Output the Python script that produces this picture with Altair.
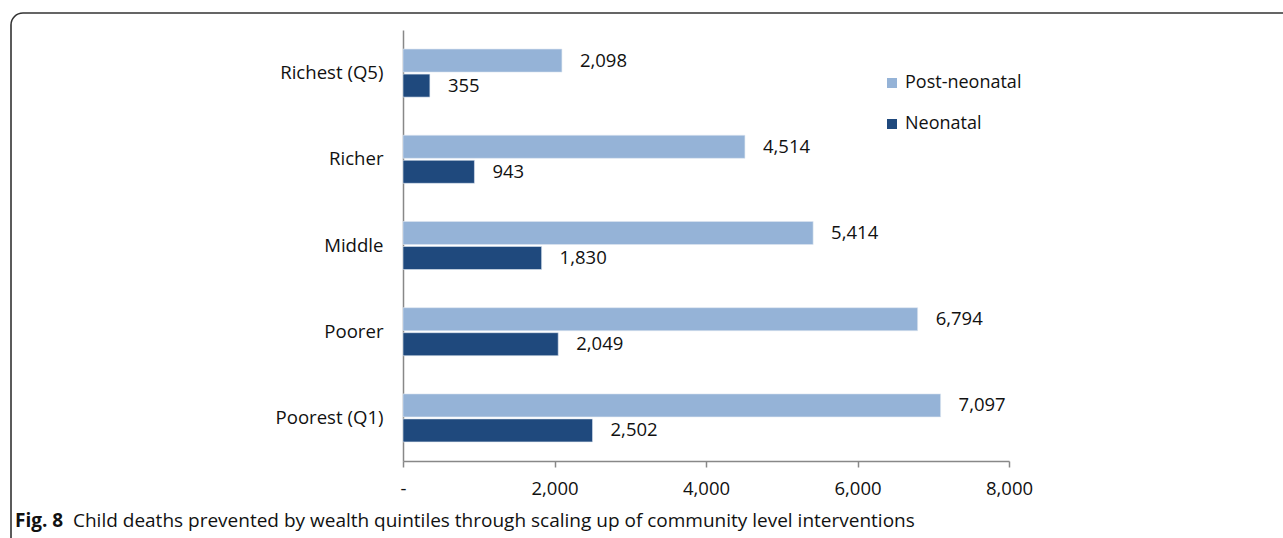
import altair as alt
import pandas as pd

categories = ["Richest (Q5)", "Richer", "Middle", "Poorer", "Poorest (Q1)"]
post_neonatal = [2098, 4514, 5414, 6794, 7097]
neonatal = [355, 943, 1830, 2049, 2502]
series = ["Post-neonatal", "Neonatal"]
colors = ["#95B3D7", "#1F497D"]
x_ticks = [0, 2000, 4000, 6000, 8000]
caption_bold = "Fig. 8"
caption_text = "Child deaths prevented by wealth quintiles through scaling up of community level interventions"

rows = []
for c, p, n in zip(categories, post_neonatal, neonatal):
    rows.append({"cat": c, "series": series[0], "value": p})
    rows.append({"cat": c, "series": series[1], "value": n})
df = pd.DataFrame(rows)

FONT = "Open Sans"
W, H = 606, 431
PL, PT = 403, 30

y_enc = alt.Y("cat:N", sort=categories,
              scale=alt.Scale(paddingInner=0.443, paddingOuter=0.2215),
              axis=alt.Axis(title=None, ticks=False, labelPadding=20, labelFontSize=18.6,
                            labelFont=FONT, labelColor="#111", domainColor="#888",
                            domainWidth=1.5, grid=False))
yoff = alt.YOffset("series:N", sort=series, scale=alt.Scale(paddingInner=0.08))

base = alt.Chart(df)

bars = base.mark_bar(stroke="#dde6f0", strokeWidth=0.6).encode(
    x=alt.X("value:Q", scale=alt.Scale(domain=[0, 8000], nice=False),
            axis=alt.Axis(title=None, values=x_ticks, grid=False, tickSize=6,
                          tickColor="#888", tickWidth=1.5, domainColor="#888", domainWidth=1.5,
                          labelFontSize=18.5, labelFont=FONT, labelColor="#111", labelPadding=12,
                          labelFlush=False,
                          labelExpr="datum.value == 0 ? '-' : format(datum.value, ',')")),
    y=y_enc,
    yOffset=yoff,
    color=alt.Color("series:N", sort=series,
                    scale=alt.Scale(domain=series, range=colors),
                    legend=alt.Legend(title=None, orient="none", legendX=480, legendY=44,
                                      symbolType="square", symbolSize=100, symbolStrokeWidth=0,
                                      labelFontSize=18, labelFont=FONT, labelColor="#111",
                                      rowPadding=23, labelOffset=4)),
)

labels = base.mark_text(align="left", baseline="middle", dx=18, fontSize=18.5,
                        font=FONT, color="#111").encode(
    x="value:Q",
    y=alt.Y("cat:N", sort=categories),
    yOffset=yoff,
    text=alt.Text("value:Q", format=","),
)

cap_df = pd.DataFrame({"t": [caption_bold], "u": [caption_text]})
cap1 = alt.Chart(cap_df).mark_text(align="left", baseline="middle", fontSize=19,
                                   font=FONT, fontWeight="bold", color="#111").encode(
    x=alt.value(15 - PL), y=alt.value(521 - PT), text="t:N")
cap2 = alt.Chart(cap_df).mark_text(align="left", baseline="middle", fontSize=19,
                                   font=FONT, color="#111").encode(
    x=alt.value(73 - PL), y=alt.value(521 - PT), text="u:N")

frame = alt.Chart(cap_df).mark_rect(fill="transparent", stroke="#333", strokeWidth=1.6,
                                    cornerRadius=12).encode(
    x=alt.value(11 - PL), x2=alt.value(1300 - PL),
    y=alt.value(13 - PT), y2=alt.value(560 - PT))

chart = alt.layer(frame, bars, labels, cap1, cap2).properties(
    width=W, height=H,
    background="white",
    autosize=alt.AutoSizeParams(type="none"),
    padding={"left": PL, "top": PT, "right": 1283 - PL - W, "bottom": 538 - PT - H},
).configure_view(strokeWidth=0, stroke="transparent").configure_axis(grid=False)

chart.save("out.html", embed_options={"renderer": "svg", "actions": False})
